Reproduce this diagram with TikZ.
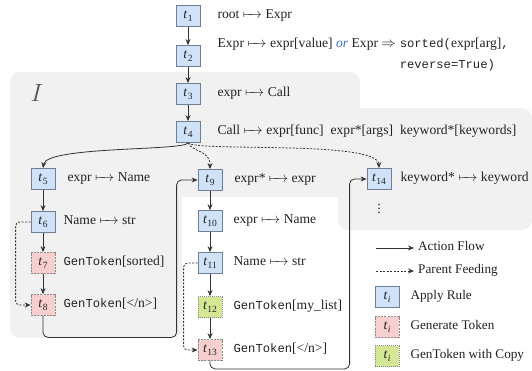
\documentclass[tikz,border=0pt]{standalone}
\usepackage{fontspec}
\setmainfont{Liberation Serif}
\setmonofont{Liberation Mono}
\usetikzlibrary{arrows.meta}
\definecolor{regbg}{HTML}{F1F1F1}
\definecolor{applyfill}{HTML}{CFE2F8}
\definecolor{applydraw}{HTML}{6E7F96}
\definecolor{genfill}{HTML}{F8CFCF}
\definecolor{copyfill}{HTML}{D3E794}
\definecolor{boxdraw}{HTML}{8A8A8A}
\definecolor{linec}{HTML}{333333}
\definecolor{txt}{HTML}{222222}
\definecolor{orblue}{HTML}{3A6FD8}
\definecolor{bigI}{HTML}{555555}
\newcommand{\tsub}[1]{\textit{t}\kern0.3pt\raisebox{-0.4ex}{\fontsize{9.5}{10}\selectfont #1}}
\newcommand{\tm}[1]{{\fontsize{12.2}{17}\ttfamily #1}}
\newcommand{\mto}{$\mathrel{\mapstochar\relbar\mkern-8mu\rightarrow}$}
\begin{document}
\begin{tikzpicture}[x=1pt,y=-1pt, font=\fontsize{13.6}{21}\selectfont, text=txt,
  rule/.style={draw=applydraw, fill=applyfill, minimum width=24pt, minimum height=21pt, inner sep=0pt, line width=0.8pt},
  gen/.style={rule, draw=boxdraw, fill=genfill, dash pattern=on 2pt off 1.2pt},
  cpy/.style={rule, draw=boxdraw, fill=copyfill, dash pattern=on 1pt off 1pt},
  lab/.style={anchor=mid west, inner sep=0pt},
  flow/.style={draw=linec, line width=0.8pt, -{Stealth[length=6pt,width=5pt]}},
  feed/.style={flow, dash pattern=on 2pt off 1.5pt},
  legtxt/.style={lab, font=\fontsize{13.2}{16}\selectfont},
]
\useasboundingbox (0,0) rectangle (532,370);
% gray region
\fill[regbg, rounded corners=10pt] (10,72) rectangle (360,197);
\fill[regbg, rounded corners=10pt] (10,72) rectangle (182,338);
\fill[regbg, rounded corners=10pt] (338,108) rectangle (532,230);
\node[text=bigI, inner sep=0pt] (bigi) at (37,93) {\fontsize{36}{36}\selectfont$I$};

% nodes
\node[rule] (t1) at (188,16) {\tsub{1}};
\node[rule] (t2) at (188,56) {\tsub{2}};
\node[rule] (t3) at (188,94) {\tsub{3}};
\node[rule] (t4) at (188,132) {\tsub{4}};
\node[rule] (t5) at (43,179) {\tsub{5}};
\node[rule] (t6) at (43,222) {\tsub{6}};
\node[gen]  (t7) at (43,263) {\tsub{7}};
\node[gen]  (t8) at (43,305) {\tsub{8}};
\node[rule] (t9) at (210,180) {\tsub{9}};
\node[rule] (t10) at (210,221) {\tsub{10}};
\node[rule] (t11) at (210,263) {\tsub{11}};
\node[cpy]  (t12) at (210,307) {\tsub{12}};
\node[gen]  (t13) at (210,350) {\tsub{13}};
\node[rule] (t14) at (379,179) {\tsub{14}};

% labels
\node[lab] (l1) at ([xshift=17pt]t1.east) {root \mto{} Expr};
\node[lab] (l2a) at ([xshift=17pt,yshift=11pt]t2.east) {Expr \mto{} expr[value] \textcolor{orblue}{\textit{or}} Expr $\Rightarrow$};
\node[anchor=base west, inner sep=0pt] (l2b) at ([xshift=3.5pt]l2a.base east) {\tm{sorted(}expr[arg]\tm{,}};
\node[anchor=base west, inner sep=0pt] (l2c) at ([yshift=-21pt]l2b.base west) {\tm{reverse=True)}};
\node[lab] (l3) at ([xshift=17pt]t3.east) {expr \mto{} Call};
\node[lab] (l4) at ([xshift=17pt]t4.east) {Call \mto{} expr[func]\hspace{7pt}expr*[args]\hspace{7pt}keyword*[keywords]};
\node[lab] (l5) at ([xshift=12pt]t5.east) {expr \mto{} Name};
\node[lab] (l6) at ([xshift=8pt]t6.east) {Name \mto{} str};
\node[lab] (l7) at ([xshift=8pt]t7.east) {\tm{GenToken}[sorted]};
\node[lab] (l8) at ([xshift=8pt]t8.east) {\tm{GenToken}[</n>]};
\node[lab] (l9) at ([xshift=12pt]t9.east) {expr* \mto{} expr};
\node[lab] (l10) at ([xshift=11pt]t10.east) {expr \mto{} Name};
\node[lab] (l11) at ([xshift=11pt]t11.east) {Name \mto{} str};
\node[lab] (l12) at ([xshift=11pt]t12.east) {\tm{GenToken}[my\_list]};
\node[lab] (l13) at ([xshift=11pt]t13.east) {\tm{GenToken}[</n>]};
\node[lab] (l14) at ([xshift=9pt]t14.east) {keyword* \mto{} keyword};
\node[inner sep=0pt] (dots) at (379,206) {$\vdots$};

% connectors
\draw[flow] (t1) -- (t2);
\draw[flow] (t2) -- (t3);
\draw[flow] (t3) -- (t4);
\draw[flow] (t4.south) .. controls (184,151) and (46,146) .. (t5.north);
\draw[feed] (t4.south) .. controls (194,153) and (210,150) .. (t9.north);
\draw[feed] (t4.south) .. controls (198,152) and (378,140) .. (t14.north);
\draw[flow] (t5) -- (t6);
\draw[flow] (t6) -- (t7);
\draw[flow] (t7) -- (t8);
\draw[feed, rounded corners=4pt] (t6.west) -- ++(-15,0) |- (t8.west);
\draw[flow, rounded corners=5pt] (t8.south) -- ++(0,21.5) -| ([xshift=-21pt]t9.west) -- (t9.west);
\draw[flow] (t9) -- (t10);
\draw[flow] (t10) -- (t11);
\draw[flow] (t11) -- (t12);
\draw[flow] (t12) -- (t13);
\draw[feed, rounded corners=4pt] (t11.west) -- ++(-14,0) |- (t13.west);
\draw[flow, rounded corners=5pt] (t13.south) -- ++(0,8) -| ([xshift=-17pt]t14.west) -- (t14.west);

% legend
\coordinate (fa) at (376,248); \coordinate (fb) at (414,248);
\coordinate (pa) at (376,271); \coordinate (pb) at (414,271);
\draw[flow] (fa) -- (fb);
\draw[feed] (pa) -- (pb);
\node[legtxt] (lfa) at (418,248) {Action Flow};
\node[legtxt] (lpa) at (418,271) {Parent Feeding};
\node[rule] (ka) at (387,297) {\tsub{\textit{i}}};
\node[gen]  (kb) at (387,327) {\tsub{\textit{i}}};
\node[cpy]  (kc) at (387,356) {\tsub{\textit{i}}};
\node[legtxt] (lka) at ([xshift=11pt]ka.east) {Apply Rule};
\node[legtxt] (lkb) at ([xshift=11pt]kb.east) {Generate Token};
\node[legtxt] (lkc) at ([xshift=11pt]kc.east) {GenToken with Copy};
\end{tikzpicture}
\end{document}
